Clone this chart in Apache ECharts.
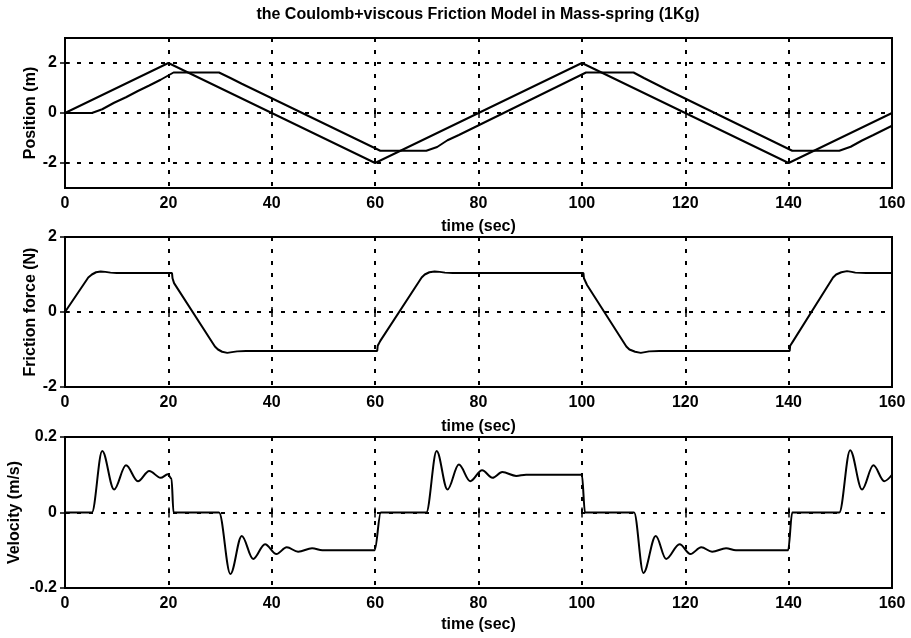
<!DOCTYPE html>
<html>
<head>
<meta charset="utf-8">
<script src="https://cdn.jsdelivr.net/npm/echarts@6/dist/echarts.min.js"></script>
<style>
  html, body { margin: 0; padding: 0; background: #fff; }
  #chart { width: 911px; height: 638px; }
</style>
</head>
<body>
<div id="chart"></div>
<script>
// Texts
const chartTitle = 'the Coulomb+viscous Friction Model in Mass-spring (1Kg)';
const timeLabel = 'time (sec)';
const yLabels = ['Position (m)', 'Friction force (N)', 'Velocity (m/s)'];

// Axis ranges and tick values
const timeMin = 0, timeMax = 160, timeStep = 20;
const positionRange = [-3, 3];
const positionTicks = [-2, 0, 2];
const forceRange = [-2, 2], forceStep = 2;
const velocityRange = [-0.2, 0.2], velocityStep = 0.2;

// Position: commanded triangle wave and the mass response [t, m]
const positionCommand = [[0, 0], [20, 2], [60, -2], [100, 2], [140, -2], [160, 0]];
const positionMass = [
  [0, 0], [5.2, 0], [7.2, 0.15], [9.5, 0.41], [11.8, 0.63], [14.1, 0.88], [16.3, 1.1], [18.5, 1.33],
  [21.0, 1.62], [29.8, 1.62], [32.0, 1.4], [34.2, 1.17], [36.4, 0.95], [61.0, -1.51],
  [69.9, -1.51], [72.0, -1.36], [74.0, -1.09], [76.2, -0.88], [100.8, 1.62],
  [110.0, 1.62], [112.0, 1.4], [114.3, 1.16], [116.3, 0.95], [140.7, -1.51],
  [149.8, -1.51], [152.0, -1.35], [154.2, -1.1], [156.4, -0.88], [160, -0.51]
];

// Friction force [t, N]
const frictionForce = [
  [0, 0], [4.5, 0.92], [5.2, 1.0], [6.0, 1.06], [6.9, 1.08], [7.8, 1.07], [8.8, 1.05], [10, 1.04],
  [20.7, 1.04], [20.8, 0.9], [21.1, 0.77], [29.0, -0.92], [29.6, -1.0], [30.4, -1.06], [31.4, -1.09],
  [32.3, -1.07], [33.3, -1.05], [35, -1.04], [60.4, -1.04], [60.5, -0.9], [61.0, -0.77],
  [69.0, 0.92], [69.6, 1.0], [70.5, 1.06], [71.5, 1.08], [72.5, 1.07], [73.5, 1.05], [75, 1.04],
  [100.3, 1.04], [100.4, 0.9], [101.0, 0.72], [108.6, -0.92], [109.2, -1.0], [110.3, -1.06],
  [111.4, -1.09], [112.2, -1.07], [113, -1.05], [115, -1.04], [140.2, -1.04], [140.3, -0.9],
  [140.9, -0.77], [148.6, 0.92], [149.2, 1.0], [150.2, 1.06], [151.3, 1.09], [152.2, 1.07],
  [152.9, 1.05], [155, 1.04], [160, 1.04]
];

// Velocity: rest points and oscillation extrema [t, m/s]
const velocity = [
  [0, 0], [5.2, 0], [7.2, 0.163], [9.5, 0.061], [11.8, 0.125], [14.1, 0.083], [16.3, 0.11],
  [18.5, 0.092], [19.9, 0.101], [20.6, 0.09], [21.0, 0],
  [29.8, 0], [32.0, -0.163], [34.2, -0.062], [36.4, -0.123], [38.7, -0.084], [40.9, -0.11],
  [42.9, -0.092], [45.1, -0.104], [47.8, -0.095], [49.8, -0.1], [59.9, -0.1], [61.1, 0],
  [69.9, 0], [71.9, 0.163], [74.0, 0.061], [76.2, 0.127], [78.4, 0.083], [80.7, 0.112],
  [82.7, 0.092], [84.6, 0.107], [87.3, 0.097], [89.2, 0.1], [100.0, 0.1], [100.6, 0],
  [110.1, 0], [111.9, -0.16], [114.3, -0.062], [116.3, -0.123], [118.9, -0.084], [121.0, -0.11],
  [123.1, -0.092], [125.2, -0.104], [127.9, -0.095], [129.8, -0.1], [139.9, -0.1], [140.7, 0],
  [149.8, 0], [151.9, 0.165], [154.2, 0.061], [156.4, 0.125], [158.5, 0.083], [160, 0.1]
];

const FONT = "'Liberation Sans', Arial, Helvetica, sans-serif";
const textStyle = { color: '#000', fontFamily: FONT, fontWeight: 'bold', fontSize: 16 };
const dotted = { color: '#000', width: 2, type: [4, 8] };
const tickStyle = { show: true, inside: true, length: 5, lineStyle: { color: '#000', width: 1.5 } };

const grids = [
  { left: 65, right: 19, top: 38, height: 150 },
  { left: 65, right: 19, top: 237, height: 150 },
  { left: 65, right: 19, top: 437, height: 151 }
].map(g => Object.assign({
  show: true, borderColor: '#000', borderWidth: 2, backgroundColor: 'transparent',
  containLabel: false, outerBoundsMode: 'none'
}, g));

const xNameGaps = [31, 32, 29];
const xAxes = [];
for (let i = 0; i < 3; i++) {
  xAxes.push({
    gridIndex: i, type: 'value', position: 'bottom',
    min: timeMin, max: timeMax, interval: timeStep,
    axisLine: { show: false },
    axisTick: tickStyle,
    axisLabel: Object.assign({ margin: 8, showMinLabel: true, showMaxLabel: true }, textStyle),
    splitLine: { show: true, lineStyle: dotted },
    name: timeLabel, nameLocation: 'middle', nameGap: xNameGaps[i], nameMoveOverlap: false,
    nameTextStyle: textStyle
  });
}
for (let i = 0; i < 3; i++) {
  xAxes.push({
    gridIndex: i, type: 'value', position: 'top',
    min: timeMin, max: timeMax, interval: timeStep,
    axisLine: { show: false }, axisTick: tickStyle,
    axisLabel: { show: false }, splitLine: { show: false }
  });
}

const yNameGaps = [26, 26, 42];
const yAxes = [
  {
    gridIndex: 0, type: 'value', min: positionRange[0], max: positionRange[1],
    axisLine: { show: false },
    axisTick: Object.assign({ customValues: positionTicks }, tickStyle),
    axisLabel: Object.assign({ margin: 8, customValues: positionTicks }, textStyle),
    splitLine: { show: false }
  },
  {
    gridIndex: 1, type: 'value', min: forceRange[0], max: forceRange[1], interval: forceStep,
    axisLine: { show: false }, axisTick: tickStyle,
    axisLabel: Object.assign({ margin: 8 }, textStyle),
    splitLine: { show: true, lineStyle: dotted }
  },
  {
    gridIndex: 2, type: 'value', min: velocityRange[0], max: velocityRange[1], interval: velocityStep,
    axisLine: { show: false }, axisTick: tickStyle,
    axisLabel: Object.assign({ margin: 8 }, textStyle),
    splitLine: { show: true, lineStyle: dotted }
  }
];
yAxes.forEach((a, i) => {
  a.name = yLabels[i];
  a.nameLocation = 'middle';
  a.nameGap = yNameGaps[i];
  a.nameMoveOverlap = false;
  a.nameTextStyle = textStyle;
});
// right-hand tick marks
yAxes.push(
  { gridIndex: 0, type: 'value', position: 'right', min: positionRange[0], max: positionRange[1],
    axisLine: { show: false }, axisTick: Object.assign({ customValues: positionTicks }, tickStyle),
    axisLabel: { show: false }, splitLine: { show: false } },
  { gridIndex: 1, type: 'value', position: 'right', min: forceRange[0], max: forceRange[1], interval: forceStep,
    axisLine: { show: false }, axisTick: tickStyle, axisLabel: { show: false }, splitLine: { show: false } },
  { gridIndex: 2, type: 'value', position: 'right', min: velocityRange[0], max: velocityRange[1], interval: velocityStep,
    axisLine: { show: false }, axisTick: tickStyle, axisLabel: { show: false }, splitLine: { show: false } }
);

const curve = { type: 'line', showSymbol: false, symbol: 'none', silent: true,
  lineStyle: { color: '#000', width: 2 }, z: 5 };

const chart = echarts.init(document.getElementById('chart'), null, { renderer: 'canvas' });
chart.setOption({
  animation: false,
  backgroundColor: '#fff',
  title: {
    text: chartTitle, left: 478, top: 7, padding: 0, textAlign: 'center',
    textStyle: textStyle
  },
  grid: grids,
  xAxis: xAxes,
  yAxis: yAxes,
  series: [
    Object.assign({}, curve, {
      name: 'command', xAxisIndex: 0, yAxisIndex: 0, data: positionCommand,
      markLine: {
        silent: true, symbol: ['none', 'none'], label: { show: false },
        lineStyle: dotted, emphasis: { disabled: true },
        data: positionTicks.map(v => ({ yAxis: v }))
      }
    }),
    Object.assign({}, curve, { name: 'mass', xAxisIndex: 0, yAxisIndex: 0, data: positionMass }),
    Object.assign({}, curve, { name: 'friction', xAxisIndex: 1, yAxisIndex: 1, data: frictionForce }),
    Object.assign({}, curve, { name: 'velocity', xAxisIndex: 2, yAxisIndex: 2, data: velocity,
      smooth: 0.35, smoothMonotone: 'x' })
  ]
});
</script>
</body>
</html>
